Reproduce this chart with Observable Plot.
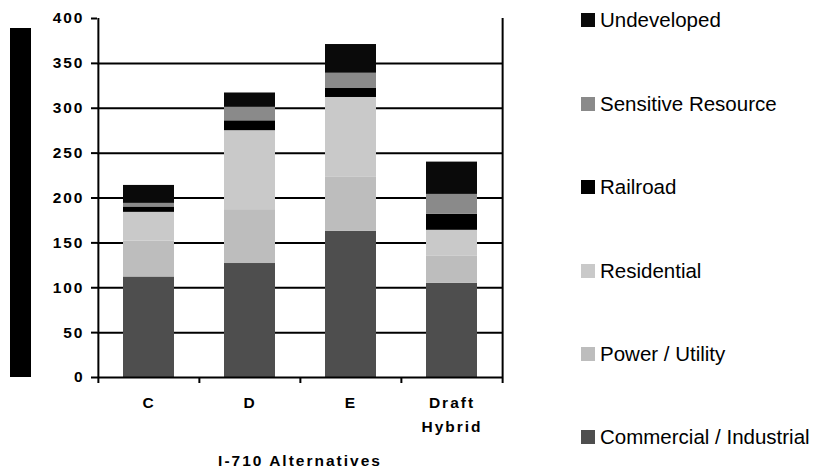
<!DOCTYPE html>
<html><head><meta charset="utf-8">
<script src="https://cdn.jsdelivr.net/npm/d3@7"></script>
<script src="https://cdn.jsdelivr.net/npm/@observablehq/plot@0.6"></script>
<style>
body{margin:0;background:#fff;}
#wrap{position:relative;width:813px;height:471px;overflow:hidden;font-family:"Liberation Sans",Arial,sans-serif;background:#fff;}
#ytitle{position:absolute;left:10px;top:28px;width:21px;height:349px;background:#000;}
.leg{position:absolute;left:581px;display:flex;align-items:center;font-size:20.5px;line-height:20px;color:#000;white-space:nowrap;}
.sw{width:14px;height:14px;margin-right:5px;flex:none;}
</style></head><body><div id="wrap"><div id="ytitle"></div></div>
<script>
const categories = ["C", "D", "E", "Draft Hybrid"];
const commercial = [112, 127, 163, 105];
const powerUtility = [40, 60, 60, 30];
const residential = [32, 88, 89, 29];
const railroad = [6, 11, 10, 18];
const sensitive = [4, 15, 17, 22];
const undeveloped = [20, 16, 32, 36];
const seriesNames = ["Commercial / Industrial", "Power / Utility", "Residential", "Railroad", "Sensitive Resource", "Undeveloped"];
const seriesValues = [commercial, powerUtility, residential, railroad, sensitive, undeveloped];
const seriesColors = ["#4e4e4e", "#bdbdbd", "#c9c9c9", "#000000", "#8a8a8a", "#0a0a0a"];
const yTicks = [0, 50, 100, 150, 200, 250, 300, 350, 400];
const xTitle = "I-710 Alternatives";

const table = [];
seriesNames.forEach((s, i) => categories.forEach((c, j) => table.push({category: c, series: s, value: seriesValues[i][j]})));

const W = 813, H = 471, mL = 97, mR = 311, mT = 18, mB = 94;
const pIn = 0.5, pOut = 0.25;
const step = (W - mL - mR) / (categories.length - pIn + 2 * pOut);
const last = categories[categories.length - 1];

const chart = Plot.plot({
  width: W, height: H,
  marginLeft: mL, marginRight: mR, marginTop: mT, marginBottom: mB,
  style: {fontFamily: '"Liberation Sans", Arial, sans-serif', fontWeight: "bold", fontSize: "15px", letterSpacing: "2px", color: "#000", background: "#fff"},
  x: {domain: categories, paddingInner: pIn, paddingOuter: pOut},
  y: {domain: [0, 400]},
  color: {domain: seriesNames, range: seriesColors},
  marks: [
    Plot.ruleY(yTicks.filter(v => v > 0 && v < 400), {stroke: "#000", strokeWidth: 2}),
    Plot.barY(table, {x: "category", y: "value", fill: "series"}),
    Plot.ruleY([0], {stroke: "#000", strokeWidth: 2}),
    Plot.ruleX([categories[0]], {x: d => d, dx: -step / 2, y1: 0, y2: 400, stroke: "#000", strokeWidth: 2}),
    Plot.ruleX([last], {x: d => d, dx: step / 2, y1: 0, y2: 400, stroke: "#000", strokeWidth: 2}),
    Plot.ruleX(categories, {x: d => d, dx: -step / 2, y1: 0, y2: 0, insetBottom: -6, stroke: "#000", strokeWidth: 2}),
    Plot.ruleX([last], {x: d => d, dx: step / 2, y1: 0, y2: 0, insetBottom: -6, stroke: "#000", strokeWidth: 2}),
    Plot.axisY({ticks: yTicks, tickSize: 6, tickPadding: 7, tickFormat: d => String(d), label: null, strokeWidth: 2, fontSize: 15.5}),
    Plot.axisX({tickSize: 0, tickPadding: 13, fontSize: 15.5, tickFormat: d => d === "Draft Hybrid" ? "Draft\nHybrid" : d, lineHeight: 1.55, label: xTitle, labelAnchor: "center", labelOffset: 88})
  ]
});
document.getElementById("wrap").appendChild(chart);

const legendY = [437, 354, 271, 187, 104, 20];
seriesNames.forEach((s, i) => {
  const div = document.createElement("div");
  div.className = "leg";
  div.style.top = (legendY[i] - 10) + "px";
  div.innerHTML = `<span class="sw" style="background:${seriesColors[i]}"></span><span>${s}</span>`;
  document.getElementById("wrap").appendChild(div);
});
</script></body></html>
